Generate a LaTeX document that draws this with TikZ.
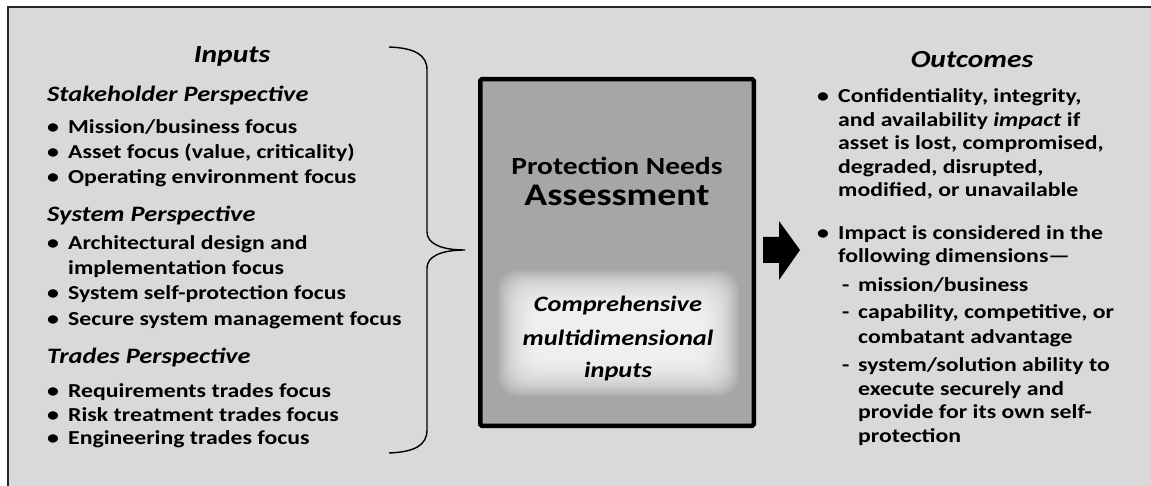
\documentclass[tikz,border=0pt]{standalone}
\usepackage{fontspec}
\setmainfont{Carlito}[FakeStretch=1.2]
\definecolor{framegray}{HTML}{D9D9D9}
\definecolor{boxgray}{HTML}{A6A6A6}
\newcommand{\bl}[1]{\makebox[21pt][l]{\textbullet}#1}
\newcommand{\br}[1]{\makebox[21pt][l]{\textbullet}#1}
\newcommand{\dsh}[1]{\makebox[16pt][l]{-}#1}
\begin{document}
\begin{tikzpicture}[x=1pt, y=-1pt,
	txt/.style={anchor=base west, inner sep=0pt, font=\fontsize{19.8}{23}\selectfont\bfseries},
	persp/.style={anchor=base west, inner sep=0pt, font=\fontsize{22}{26}\selectfont\bfseries\itshape},
	heading/.style={anchor=base, inner sep=0pt, font=\fontsize{24.6}{30}\selectfont\bfseries\itshape},
	inner/.style={anchor=base, inner sep=0pt, font=\fontsize{22}{27}\selectfont\bfseries\itshape}]
	\useasboundingbox (0,0) rectangle (1151,486);
	% frame
	\filldraw[fill=framegray, draw=black!85, line width=1.5pt] (8,7) rectangle (1170,500);

	% brace
	\draw[line width=1.4pt] (389,47) .. controls (415,48) and (427,55) .. (427,70) -- (427,232)
		.. controls (427,243) and (440,250) .. (465,250)
		.. controls (440,250) and (427,257) .. (427,268) -- (427,430)
		.. controls (427,445) and (415,452) .. (389,453);

	% centre box
	\node[draw, line width=4.5pt, fill=boxgray, rounded corners=1.5pt, minimum width=273.5, minimum height=346.5, inner sep=0pt] (box) at (617,252.5) {};
	\foreach \i in {0,...,23}
		\fill[white, opacity=0.085, rounded corners=20pt] (498+1.6*\i,270+1.6*\i) rectangle (739-1.6*\i,396-1.6*\i);
	\node[anchor=base, inner sep=0pt, font=\fontsize{24.6}{30}\selectfont\bfseries] (pn) at (617,175) {Protection Needs};
	\node[anchor=base, inner sep=0pt, font=\fontsize{31.5}{38}\selectfont\bfseries] (pa) at (617,206) {Assessment};
	\node[inner] (c1) at (618,312) {Comprehensive};
	\node[inner] (c2) at (618,345) {multidimensional};
	\node[inner] (c3) at (618,377) {inputs};

	% arrow
	\fill (763,237) -- (779,237) -- (779,221) -- (800,250) -- (779,280) -- (779,263) -- (763,263) -- cycle;

	% inputs
	\node[heading] (inputs) at (232,63) {Inputs};
	\node[persp] (stake) at (47,102) {Stakeholder Perspective};
	\node[txt] (s1) at (47,134) {\bl{Mission/business focus}};
	\node[txt] (s2) at (47,159) {\bl{Asset focus (value, criticality)}};
	\node[txt] (s3) at (47,184) {\bl{Operating environment focus}};
	\node[persp] (sys) at (47,222) {System Perspective};
	\node[txt] (y1) at (47,250) {\bl{Architectural design and}};
	\node[txt] (y1b) at (68,275) {implementation focus};
	\node[txt] (y2) at (47,300) {\bl{System self-protection focus}};
	\node[txt] (y3) at (47,325) {\bl{Secure system management focus}};
	\node[persp] (trades) at (47,363) {Trades Perspective};
	\node[txt] (t1) at (47,397) {\bl{Requirements trades focus}};
	\node[txt] (t2) at (47,421) {\bl{Risk treatment trades focus}};
	\node[txt] (t3) at (47,444) {\bl{Engineering trades focus}};

	% outcomes
	\node[heading] (outcomes) at (972,68) {Outcomes};
	\node[txt] (o1) at (817,103) {\br{Confidentiality, integrity,}};
	\node[txt] (o1b) at (838,127) {and availability \emph{impact} if};
	\node[txt] (o1c) at (838,150) {asset is lost, compromised,};
	\node[txt] (o1d) at (838,174) {degraded, disrupted,};
	\node[txt] (o1e) at (838,197) {modified, or unavailable};
	\node[txt] (o2) at (817,240) {\br{Impact is considered in the}};
	\node[txt] (o2b) at (838,263) {following dimensions---};
	\node[txt] (d1) at (842,291) {\dsh{mission/business}};
	\node[txt] (d2) at (842,319) {\dsh{capability, competitive, or}};
	\node[txt] (d2b) at (858,343) {combatant advantage};
	\node[txt] (d3) at (842,371) {\dsh{system/solution ability to}};
	\node[txt] (d3b) at (858,395) {execute securely and};
	\node[txt] (d3c) at (858,418) {provide for its own self-};
	\node[txt] (d3d) at (858,442) {protection};
\end{tikzpicture}
\end{document}
